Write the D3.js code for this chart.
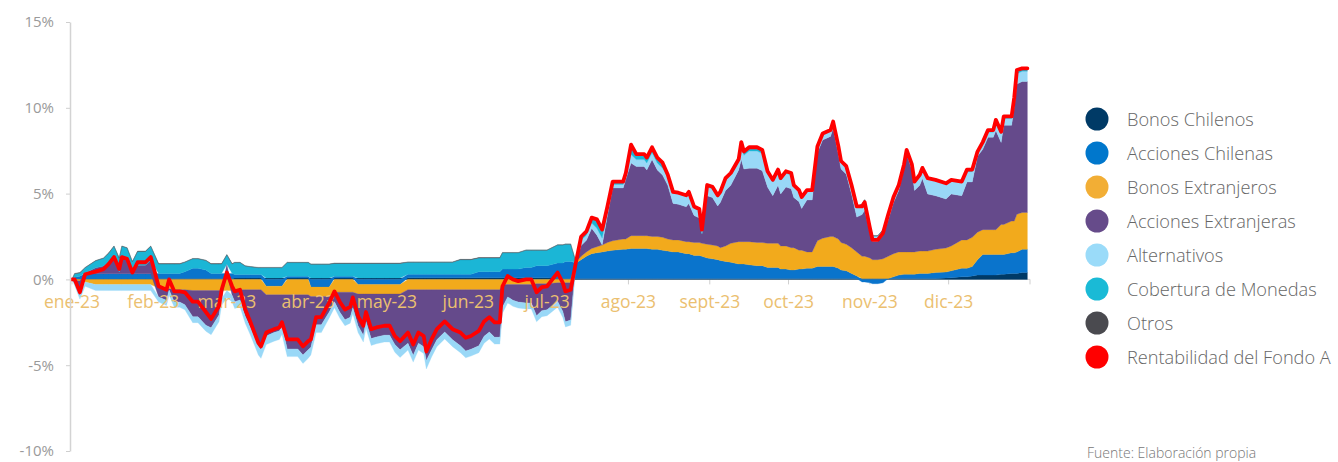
<!DOCTYPE html>
<html><head><meta charset="utf-8">
<script src="https://cdn.jsdelivr.net/npm/d3@7"></script>
<style>body{margin:0;background:#fff}svg{display:block}</style>
</head><body>
<svg id="c" width="1338" height="462"></svg>
<script>
// ---- data (contribution to return, %) ----
const dates = [
"01-01","01-02","01-04","01-06","01-10","01-13","01-15","01-17","01-19","01-20","01-22","01-24","01-26","01-29","01-31",
"02-03","02-06","02-07","02-09","02-11","02-13","02-16","02-18","02-21","02-23","02-26","02-27",
"03-01","03-03","03-04","03-06","03-08","03-10","03-13","03-14","03-16","03-19","03-21","03-22","03-24","03-28","03-30",
"04-01","04-02","04-04","04-06","04-09","04-11","04-13","04-15","04-17","04-18","04-20","04-22","04-23","04-25","04-27","04-30",
"05-02","05-04","05-06","05-09","05-11","05-13","05-15","05-16","05-18","05-20","05-23","05-26","05-29","05-31",
"06-02","06-05","06-07","06-09","06-11","06-13","06-14","06-16","06-18","06-20","06-23","06-25","06-27","06-29",
"07-01","07-05","07-07","07-08","07-10","07-12","07-14","07-16","07-18","07-20","07-22","07-24","07-26","07-30","07-31",
"08-02","08-04","08-07","08-08","08-10","08-12","08-14","08-16","08-18","08-20","08-23","08-24","08-26","08-28","08-29","08-31",
"09-02","09-04","09-05","09-07","09-09","09-12","09-13","09-14","09-16","09-19","09-21","09-23","09-25","09-27","09-28","09-30",
"10-02","10-03","10-05","10-06","10-08","10-10","10-12","10-14","10-17","10-18","10-20","10-21","10-23","10-25","10-27","10-29","10-30",
"11-01","11-02","11-04","11-06","11-08","11-10","11-12","11-14","11-15","11-17","11-18","11-20","11-21","11-23","11-26","11-30",
"12-02","12-06","12-08","12-10","12-12","12-14","12-16","12-18","12-19","12-21","12-22","12-25","12-26","12-27","12-29","12-31"];

const rentabilidadFondoA = [
0,0,-0.75,0.3,0.45,0.6,0.9,1.3,0.6,1.3,1.2,0.4,1.0,1.0,1.3,
-0.4,-0.6,0,-0.7,-0.7,-0.75,-1.3,-1.3,-1.9,-2.3,-1.55,-0.6,
0.4,-0.4,-0.7,-0.6,-1.75,-2.5,-3.7,-3.9,-3.1,-2.9,-2.8,-2.5,-3.5,-3.5,-3.9,
-3.6,-3.5,-2.2,-2.2,-1.35,-0.7,-1.3,-1.75,-1.6,-1.05,-2.15,-2.7,-1.9,-2.9,-2.8,-2.7,
-2.7,-3.3,-3.6,-3.1,-3.8,-3.1,-3.3,-4.2,-3.5,-2.9,-2.45,-2.9,-3.1,-3.4,
-3.3,-3.0,-2.45,-2.2,-2.5,-2.5,-0.4,0.2,0,-0.1,0,0,-0.75,-0.45,
-0.4,0.4,-0.2,-0.7,-0.6,1.0,2.5,2.8,3.6,3.5,2.9,4.25,5.7,5.7,6.2,
7.85,7.3,7.3,7.1,7.7,7.1,6.8,6.1,5.1,5.05,4.9,5.1,4.25,4.1,2.9,5.5,
5.4,4.9,5.1,5.9,6.2,7.0,8.0,7.45,7.7,7.7,7.55,6.3,5.8,6.4,5.9,6.3,
6.2,5.5,5.2,4.8,5.2,5.2,7.75,8.5,8.7,9.2,7.75,6.9,6.6,5.5,4.25,4.25,4.5,
3.0,2.3,2.3,2.7,3.8,4.8,5.5,6.7,7.55,6.7,5.7,6.1,6.5,5.9,5.8,5.6,
5.8,5.7,6.4,6.4,7.45,8.0,8.7,8.7,9.3,8.6,9.5,9.5,10.6,12.2,12.3,12.3];

const bonosChilenos = [
0,0.03,0.03,0.03,0.03,0.03,0.03,0.03,0.03,0.03,0.03,0.03,0.03,0.03,0.03,
0.05,0.05,0.05,0.05,0.05,0.05,0.05,0.05,0.05,0.05,0.05,0.05,
0.05,0.05,0.08,0.08,0.08,0.08,0.08,0.08,0.08,0.08,0.08,0.08,0.08,0.08,0.08,
0.08,0.08,0.08,0.08,0.08,0.08,0.08,0.08,0.08,0.08,0.08,0.08,0.08,0.08,0.08,0.08,
0.08,0.08,0.08,0.1,0.1,0.1,0.1,0.1,0.1,0.1,0.1,0.1,0.1,0.1,
0.1,0.1,0.1,0.1,0.1,0.1,0.1,0.1,0.1,0.1,0.1,0.1,0.1,0.1,
0.1,0.05,0.05,0.05,0.05,0.05,0.05,0.05,0.05,0.05,0.05,0.05,0.05,0.05,0.05,
0.05,0.05,0.05,0.05,0.05,0.05,0.05,0.05,0.05,0.05,0.05,0.05,0.05,0.05,0.05,0.05,
0.05,0.05,0.05,0.05,0.05,0.05,0.05,0.05,0.05,0.05,0.05,0.05,0.05,0.05,0.05,0.05,
0.05,0.05,0.05,0.05,0.05,0.05,0.05,0.05,0.05,0.05,0.05,0.05,0.05,0.05,0.05,0.05,0.05,
0.05,0.05,0.05,0.05,0.05,0.05,0.05,0.05,0.05,0.05,0.05,0.05,0.05,0.05,0.05,0.08,
0.1,0.15,0.15,0.2,0.25,0.25,0.25,0.25,0.25,0.3,0.3,0.35,0.35,0.35,0.4,0.4];

const accionesChilenas = [
0,0.1,0.15,0.3,0.3,0.3,0.3,0.3,0.3,0.3,0.3,0.3,0.3,0.3,0.3,
0.3,0.3,0.3,0.3,0.3,0.4,0.6,0.6,0.5,0.3,0.3,0.3,
0.3,0.3,0.2,0.2,0.2,0.2,0.2,0.2,-0.4,-0.4,-0.4,-0.4,0.1,0.1,0.1,
0.1,-0.45,-0.45,-0.45,-0.45,0.1,0.1,0.1,0.1,0.1,-0.3,-0.3,-0.3,-0.3,-0.3,-0.3,
-0.3,-0.3,-0.3,0.2,0.2,0.2,0.2,0.2,0.2,0.2,0.2,0.2,0.2,0.2,
0.2,0.35,0.35,0.35,0.35,0.35,0.5,0.5,0.5,0.5,0.6,0.6,0.7,0.7,
0.7,0.9,0.9,1.0,1.0,0.9,1.1,1.3,1.45,1.5,1.55,1.6,1.65,1.7,1.7,
1.75,1.75,1.75,1.75,1.7,1.7,1.65,1.6,1.55,1.55,1.45,1.45,1.35,1.35,1.3,1.2,
1.15,1.1,1.05,1.0,0.95,0.85,0.85,0.85,0.8,0.75,0.75,0.65,0.65,0.65,0.55,0.55,
0.5,0.5,0.55,0.55,0.6,0.6,0.7,0.7,0.7,0.7,0.6,0.5,0.45,0.3,0.15,-0.15,-0.15,
-0.2,-0.25,-0.25,-0.2,0,0.1,0.2,0.25,0.25,0.25,0.25,0.3,0.3,0.3,0.35,0.35,
0.4,0.5,0.5,0.55,0.9,1.2,1.2,1.2,1.2,1.15,1.15,1.2,1.2,1.25,1.35,1.35];

const bonosExtranjeros = [
0,-0.05,-0.1,-0.15,-0.3,-0.3,-0.3,-0.3,-0.3,-0.3,-0.3,-0.3,-0.3,-0.3,-0.3,
-0.5,-0.55,-0.55,-0.6,-0.6,-0.6,-0.65,-0.65,-0.65,-0.65,-0.65,-0.65,
-0.65,-0.65,-0.6,-0.6,-0.6,-0.6,-0.6,-0.6,-0.5,-0.5,-0.5,-0.5,-0.9,-0.9,-0.9,
-0.9,-0.55,-0.55,-0.55,-0.55,-0.75,-0.75,-0.75,-0.75,-0.75,-0.55,-0.55,-0.55,-0.55,-0.55,-0.55,
-0.55,-0.55,-0.55,-0.6,-0.6,-0.6,-0.6,-0.6,-0.6,-0.6,-0.6,-0.6,-0.6,-0.6,
-0.6,-0.6,-0.6,-0.6,-0.6,-0.6,-0.3,-0.3,-0.3,-0.3,-0.3,-0.3,-0.25,-0.25,
-0.25,-0.2,-0.2,-0.2,-0.2,0.05,0.2,0.25,0.3,0.35,0.4,0.5,0.55,0.6,0.6,
0.75,0.75,0.75,0.75,0.75,0.75,0.75,0.7,0.7,0.7,0.7,0.7,0.75,0.75,0.75,0.8,
0.8,0.8,0.75,0.9,1.1,1.3,1.3,1.3,1.35,1.35,1.35,1.4,1.4,1.4,1.35,1.35,
1.3,1.3,1.1,1.1,0.95,0.95,1.5,1.65,1.75,1.75,1.7,1.6,1.55,1.5,1.4,1.3,1.3,
1.2,1.1,1.1,1.15,1.3,1.35,1.35,1.3,1.3,1.3,1.3,1.3,1.3,1.3,1.35,1.4,
1.45,1.65,1.65,1.7,1.6,1.45,1.45,1.45,1.45,1.75,1.75,1.85,1.85,2.2,2.15,2.15];

const accionesExtranjeras = [
0,-0.2,-0.85,0.05,0.35,0.45,0.65,0.85,0.1,0.85,0.8,0.1,0.5,0.5,0.8,
-0.52,-0.67,-0.07,-0.72,-0.72,-0.87,-1.52,-1.52,-2.02,-2.17,-1.42,-0.47,
0.53,-0.27,-0.7,-0.6,-1.55,-2.2,-3.3,-3.5,-2.4,-2.2,-2.1,-1.8,-3.15,-3.15,-3.5,
-3.2,-2.95,-1.65,-1.65,-0.9,-0.55,-1.15,-1.6,-1.45,-0.9,-1.85,-2.4,-1.6,-2.6,-2.5,-2.4,
-2.4,-2.95,-3.25,-3.12,-3.82,-3.12,-3.32,-4.12,-3.52,-2.92,-2.47,-2.92,-3.27,-3.57,
-3.47,-3.27,-2.72,-2.47,-2.77,-2.77,-1.32,-0.72,-0.92,-1.02,-1.07,-1.07,-1.87,-1.57,
-1.52,-1.07,-1.67,-2.27,-2.17,0,0.63,0.68,1.18,0.68,0,1.58,3.08,2.98,3.48,
4.23,4.03,4.03,3.83,4.48,3.88,3.63,3.13,2.13,2.08,2.03,2.23,1.58,1.43,0.58,2.83,
2.78,2.33,2.63,3.23,3.38,4.18,4.78,4.23,4.28,4.33,4.18,3.28,2.78,3.38,3.03,3.43,
3.43,2.93,2.83,2.43,3.03,3.03,5.13,5.73,5.83,6.33,4.93,4.28,4.08,3.13,2.03,2.43,2.68,
1.53,1.08,1.08,1.38,2.13,2.98,3.58,4.88,5.73,4.78,3.58,3.83,4.23,3.33,3.13,2.85,
3.03,2.58,3.38,3.23,4.43,4.68,5.38,5.38,5.78,4.78,5.78,5.58,6.68,7.58,7.63,7.63];

const alternativos = [
0,-0.1,-0.2,-0.25,-0.35,-0.35,-0.35,-0.35,-0.35,-0.35,-0.35,-0.35,-0.35,-0.35,-0.35,
-0.3,-0.3,-0.3,-0.3,-0.3,-0.3,-0.35,-0.35,-0.35,-0.4,-0.4,-0.4,
-0.4,-0.4,-0.4,-0.4,-0.4,-0.45,-0.5,-0.5,-0.5,-0.5,-0.5,-0.5,-0.45,-0.45,-0.5,
-0.5,-0.45,-0.45,-0.45,-0.35,-0.35,-0.35,-0.35,-0.35,-0.35,-0.4,-0.4,-0.4,-0.4,-0.4,-0.4,
-0.4,-0.45,-0.45,-0.4,-0.4,-0.4,-0.4,-0.5,-0.4,-0.4,-0.4,-0.4,-0.4,-0.4,
-0.4,-0.4,-0.4,-0.4,-0.4,-0.4,-0.35,-0.35,-0.35,-0.35,-0.35,-0.35,-0.35,-0.35,
-0.35,-0.35,-0.35,-0.3,-0.3,0,0.3,0.3,0.3,0.4,0.4,0.3,0.2,0.2,0.2,
0.5,0.4,0.4,0.4,0.4,0.4,0.4,0.5,0.6,0.6,0.6,0.6,0.4,0.4,0,0.5,
0.5,0.5,0.5,0.6,0.6,0.5,0.8,0.8,1.0,1.0,1.0,0.8,0.8,0.8,0.8,0.8,
0.8,0.6,0.6,0.6,0.5,0.5,0.3,0.3,0.3,0.3,0.4,0.4,0.4,0.5,0.6,0.6,0.6,
0.4,0.3,0.3,0.3,0.3,0.3,0.3,0.2,0.2,0.3,0.5,0.6,0.6,0.9,0.9,0.9,
0.8,0.8,0.6,0.6,0.2,0.3,0.3,0.3,0.4,0.5,0.4,0.4,0.4,0.6,0.6,0.6];

const coberturaMonedas = [
0,0.2,0.2,0.3,0.4,0.45,0.55,0.75,0.8,0.75,0.7,0.6,0.8,0.8,0.8,
0.55,0.55,0.55,0.55,0.55,0.55,0.55,0.55,0.55,0.55,0.55,0.55,
0.55,0.55,0.7,0.7,0.5,0.45,0.4,0.4,0.6,0.6,0.6,0.6,0.8,0.8,0.8,
0.8,0.8,0.8,0.8,0.8,0.75,0.75,0.75,0.75,0.75,0.85,0.85,0.85,0.85,0.85,0.85,
0.85,0.85,0.85,0.7,0.7,0.7,0.7,0.7,0.7,0.7,0.7,0.7,0.85,0.85,
0.85,0.8,0.8,0.8,0.8,0.8,0.95,0.95,0.95,0.95,1.0,1.0,0.9,0.9,
0.9,1.05,1.05,1.0,1.0,0,0.2,0.2,0.3,0.5,0.5,0.2,0.15,0.15,0.15,
0.55,0.3,0.3,0.3,0.3,0.3,0.3,0.1,0.05,0.05,0.05,0.05,0.1,0.1,0.2,0.1,
0.1,0.1,0.1,0.1,0.1,0.1,0.2,0.2,0.2,0.2,0.2,0.1,0.1,0.1,0.1,0.1,
0.1,0.1,0.05,0.05,0.05,0.05,0.05,0.05,0.05,0.05,0.05,0.05,0.05,0,0,0,0,
0,0,0,0,0,0,0,0,0,0,0,0,0,0,0,0,
0,0,0.1,0.1,0.05,0.1,0.1,0.1,0.2,0.1,0.1,0.1,0.1,0.2,0.15,0.15];

const otros = dates.map((d, i) => i === 0 ? 0 : 0.02);

const seriesNames = ["Bonos Chilenos","Acciones Chilenas","Bonos Extranjeros","Acciones Extranjeras","Alternativos","Cobertura de Monedas","Otros"];
const seriesValues = [bonosChilenos, accionesChilenas, bonosExtranjeros, accionesExtranjeras, alternativos, coberturaMonedas, otros];
const seriesColors = ["#003a66","#0a74cc","#f2aa1c","#654a8b","#99d8f7","#1bb6d6","#4a4b50"];
const legendNames = [...seriesNames, "Rentabilidad del Fondo A"];
const legendColors = ["#003a66","#0077cc","#f2ae35","#664b8a","#9adbf9","#1abad6","#4a4a4f","#ff0000"];

const yTicks = [-10, -5, 0, 5, 10, 15];
const monthStarts = ["01-01","02-01","03-01","04-01","05-01","06-01","07-01","08-01","09-01","10-01","11-01","12-01"];
const monthLabels = ["ene-23","feb-23","mar-23","abr-23","may-23","jun-23","jul-23","ago-23","sept-23","oct-23","nov-23","dic-23"];

// ---- chart ----
const parse = d3.timeParse("%Y-%m-%d");
const toDate = s => parse("2023-" + s);
const svg = d3.select("#c");
const FONT = "'Open Sans', 'Noto Sans', sans-serif";

const x = d3.scaleTime().domain([toDate("01-01"), new Date(2024, 0, 1)]).range([72, 1030]);
const y = d3.scaleLinear().domain([-10, 15]).range([451, 22]);

const rows = dates.map((d, i) => {
  const r = { date: toDate(d) };
  seriesNames.forEach((n, k) => r[n] = seriesValues[k][i]);
  return r;
});

// diverging offset; zero values sit on the running positive baseline
function offsetDiverging(series, order) {
  const m = series[0].length;
  for (let j = 0; j < m; ++j) {
    let yp = 0, yn = 0;
    for (let i = 0; i < order.length; ++i) {
      const d = series[order[i]][j];
      const dy = d[1] - d[0];
      if (dy >= 0) { d[0] = yp; d[1] = yp += dy; }
      else { d[1] = yn; d[0] = yn += dy; }
    }
  }
}
const stacked = d3.stack().keys(seriesNames).offset(offsetDiverging)(rows);

// zero line + x ticks
const tickDates = monthStarts.map(toDate).concat([new Date(2024, 0, 1)]);
svg.append("line").attr("x1", 70).attr("x2", x(new Date(2024,0,1))).attr("y1", y(0)).attr("y2", y(0))
  .attr("stroke", "#d6d6d6").attr("stroke-width", 1);
svg.append("g").selectAll("line").data(tickDates).join("line")
  .attr("x1", d => x(d)).attr("x2", d => x(d)).attr("y1", y(0)).attr("y2", y(0) + 5)
  .attr("stroke", "#cfcfcf").attr("stroke-width", 1);

const area = d3.area()
  .x(d => x(d.data.date))
  .y0(d => y(d[0]))
  .y1(d => y(d[1]));

svg.append("g").selectAll("path").data(stacked).join("path")
  .attr("d", area)
  .attr("fill", (d, i) => seriesColors[i])
  .attr("stroke", (d, i) => seriesColors[i])
  .attr("stroke-width", 0.3);

// month labels
svg.append("g").selectAll("text").data(monthStarts).join("text")
  .attr("x", d => x(toDate(d))).attr("y", y(0) + 29)
  .attr("text-anchor", "middle")
  .attr("font-family", FONT).attr("font-size", 17.5)
  .attr("fill", "#ebc070")
  .text((d, i) => monthLabels[i]);

// fund return line
const line = d3.line()
  .x((d, i) => x(toDate(dates[i])))
  .y(d => y(d));
svg.append("path").datum(rentabilidadFondoA)
  .attr("d", line).attr("fill", "none")
  .attr("stroke", "#ff0000").attr("stroke-width", 3.8)
  .attr("stroke-linejoin", "round").attr("stroke-linecap", "round");

// y axis
const yAxis = d3.axisLeft(y).tickValues(yTicks).tickFormat(d => d + "%").tickSize(4).tickSizeOuter(0).tickPadding(12);
const gy = svg.append("g").attr("transform", "translate(70,0)").call(yAxis);
gy.select(".domain").attr("stroke", "#d3d3d3").attr("stroke-width", 1.5);
gy.selectAll(".tick line").attr("stroke", "#cfcfcf");
gy.selectAll(".tick text").attr("font-family", FONT).attr("font-size", 15).attr("fill", "#9a9a9a");

// legend
const lg = svg.append("g");
legendNames.forEach((n, i) => {
  const cy = 119 + i * 34;
  lg.append("circle").attr("cx", 1097).attr("cy", cy).attr("r", 11.5).attr("fill", legendColors[i]);
  lg.append("text").attr("x", 1127).attr("y", cy + 6.5)
    .attr("font-family", FONT).attr("font-size", 18.2).attr("font-weight", 300)
    .attr("fill", "#666").text(n);
});
svg.append("text").attr("x", 1087).attr("y", 458)
  .attr("font-family", FONT).attr("font-size", 14).attr("font-weight", 300)
  .attr("fill", "#777").text("Fuente: Elaboración propia");
</script>
</body></html>
